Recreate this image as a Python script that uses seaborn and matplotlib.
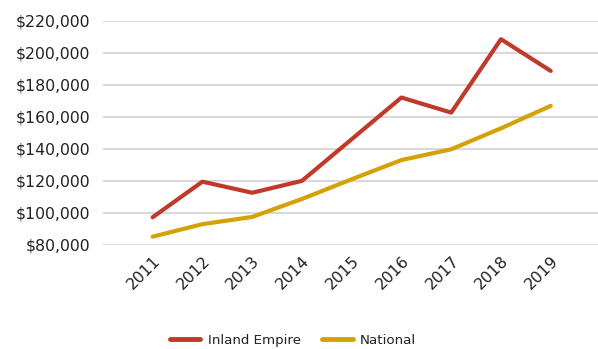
import matplotlib
matplotlib.use("Agg")
import matplotlib.pyplot as plt
import matplotlib.ticker as mticker
import pandas as pd
import seaborn as sns

years = ["2011", "2012", "2013", "2014", "2015", "2016", "2017", "2018", "2019"]
inland_empire = [97300, 119500, 112600, 120000, 146000, 172000, 162600, 208400, 188600]
national = [85200, 93000, 97500, 108700, 121000, 133000, 139700, 152800, 166800]
series_names = ["Inland Empire", "National"]
colors = ["#C0392B", "#D4A106"]

df = pd.DataFrame({
    "Year": years * 2,
    "Value": inland_empire + national,
    "Series": [series_names[0]] * len(years) + [series_names[1]] * len(years),
})
df["x"] = list(range(len(years))) * 2

sns.set_theme(style="white")
plt.rcParams["font.family"] = ["DejaVu Sans"]

fig = plt.figure(figsize=(5.98, 3.49), dpi=100)
ax = fig.add_axes([0.172, 0.298, 0.828, 0.643])

sns.lineplot(data=df, x="x", y="Value", hue="Series", palette=colors,
             linewidth=3, ax=ax, legend=False)

ax.set_xlim(-1.0, 8.95)
ax.set_ylim(80000, 220000)
ax.yaxis.set_major_locator(mticker.MultipleLocator(20000))
ax.yaxis.set_major_formatter(mticker.FuncFormatter(lambda v, p: f"${v:,.0f}"))
ax.set_xticks(range(len(years)))
ax.set_xticklabels(years, rotation=45, ha="right", rotation_mode="anchor")
ax.tick_params(axis="both", labelsize=11.3, colors="#222222", length=0)
ax.tick_params(axis="x", pad=6)
ax.tick_params(axis="y", pad=9)
ax.grid(axis="y", color="#D9D9D9", linewidth=1.5)
ax.set_axisbelow(True)
for s in ax.spines.values():
    s.set_visible(False)
ax.set_xlabel("")
ax.set_ylabel("")

handles = [plt.Line2D([], [], color=c, linewidth=3.5) for c in colors]
fig.legend(handles, series_names, loc="center", bbox_to_anchor=(0.49, 0.025),
           ncol=2, frameon=False, fontsize=9.6, handlelength=2.3,
           columnspacing=1.6, handletextpad=0.55, labelcolor="#222222")

fig.savefig("out.png", dpi=100)
